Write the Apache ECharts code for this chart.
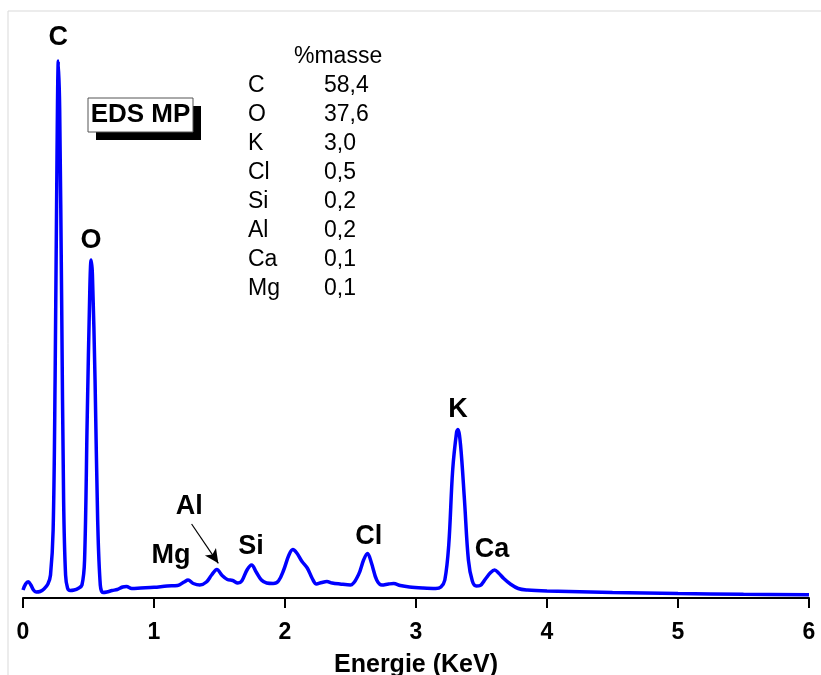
<!DOCTYPE html>
<html>
<head>
<meta charset="utf-8">
<script src="https://cdn.jsdelivr.net/npm/echarts@6/dist/echarts.min.js"></script>
<style>
html,body{margin:0;padding:0;background:#fff;overflow:hidden;}
#chart{width:821px;height:675px;}
</style>
</head>
<body>
<div id="chart"></div>
<script>
// Spectrum: energy (keV) and intensity (arbitrary counts)
var energy = [0.00,0.02,0.04,0.06,0.08,0.10,0.13,0.16,0.19,0.21,0.23,0.245,0.26,0.27,0.28,0.295,0.31,0.325,0.34,0.36,0.39,0.42,0.45,0.47,0.49,0.51,0.52,0.53,0.55,0.57,0.59,0.61,0.64,0.68,0.72,0.76,0.79,0.83,0.90,1.00,1.10,1.18,1.23,1.26,1.30,1.35,1.40,1.44,1.48,1.52,1.56,1.60,1.64,1.67,1.71,1.745,1.78,1.82,1.86,1.91,1.95,1.99,2.03,2.06,2.09,2.13,2.17,2.21,2.24,2.28,2.32,2.36,2.42,2.50,2.56,2.60,2.63,2.66,2.70,2.74,2.79,2.83,2.88,2.95,3.05,3.15,3.19,3.22,3.25,3.28,3.31,3.32,3.34,3.37,3.40,3.43,3.46,3.49,3.53,3.57,3.60,3.63,3.67,3.72,3.78,3.85,4.00,4.50,5.00,5.50,6.00];
var counts = [80,140,163,130,80,60,65,90,140,230,680,2180,4480,5370,4880,2980,980,230,100,75,80,95,130,380,1780,3080,3380,3230,2180,780,130,55,60,75,85,110,115,95,100,107,120,125,160,180,145,130,160,230,285,225,185,175,150,170,280,330,260,180,150,145,170,280,430,485,450,365,300,190,140,155,165,150,140,130,230,380,445,350,180,130,140,145,125,110,100,95,110,180,530,1280,1660,1685,1530,980,380,170,120,125,190,255,280,250,195,140,95,80,70,55,45,38,33];

// Peak annotations (element, energy, intensity position of label)
var peakNames = ['C','O','Mg','Al','Si','Cl','K','Ca'];
var peakLabelX = [0.27,0.52,1.13,1.27,1.74,2.64,3.32,3.58];
var peakLabelY = [5600,3570,420,910,510,610,1880,480];

// Composition table
var tableElements = ['C','O','K','Cl','Si','Al','Ca','Mg'];
var tableValues = ['58,4','37,6','3,0','0,5','0,2','0,2','0,1','0,1'];
var tableHeader = '%masse';
var sampleName = 'EDS MP';

var xTicks = [0,1,2,3,4,5,6];

var chart = echarts.init(document.getElementById('chart'));
var spectrum = energy.map(function(e,i){return [e,counts[i]];});
var labelData = peakNames.map(function(n,i){return {value:[peakLabelX[i],peakLabelY[i]],name:n};});

var graphics = [
  {type:'polyline',shape:{points:[[8,700],[8,11],[830,11]]},style:{stroke:'#d9d9d9',lineWidth:1,fill:null},silent:true},
  {type:'rect',shape:{x:96,y:106,width:105,height:34},style:{fill:'#000'}},
  {type:'rect',shape:{x:88,y:98,width:105,height:34},style:{fill:'#fff',stroke:'#555',lineWidth:1}},
  {type:'text',x:140.5,y:115,style:{text:sampleName,font:'bold 26px "Liberation Sans", Arial, sans-serif',fill:'#000',textAlign:'center',textVerticalAlign:'middle'}},
  {type:'text',x:294,y:57,style:{text:tableHeader,font:'23px "Liberation Sans", Arial, sans-serif',fill:'#000',textAlign:'left',textVerticalAlign:'middle'}}
];
tableElements.forEach(function(el,i){
  var y = 86 + i*29;
  graphics.push({type:'text',x:248,y:y,style:{text:el,font:'23px "Liberation Sans", Arial, sans-serif',fill:'#000',textAlign:'left',textVerticalAlign:'middle'}});
  graphics.push({type:'text',x:324,y:y,style:{text:tableValues[i],font:'23px "Liberation Sans", Arial, sans-serif',fill:'#000',textAlign:'left',textVerticalAlign:'middle'}});
});

chart.setOption({
  animation:false,
  backgroundColor:'#fff',
  grid:{left:23,right:12,top:18,bottom:77,containLabel:false,outerBoundsMode:'none'},
  xAxis:{
    type:'value',min:0,max:6,interval:1,
    name:'Energie (KeV)',nameLocation:'middle',nameGap:55,
    nameTextStyle:{fontFamily:'"Liberation Sans", Arial, sans-serif',fontWeight:'bold',fontSize:25,color:'#000'},
    axisLine:{show:true,onZero:false,lineStyle:{color:'#000',width:2}},
    axisTick:{show:true,inside:false,length:10,lineStyle:{color:'#000',width:2}},
    axisLabel:{show:true,margin:23,fontFamily:'"Liberation Sans", Arial, sans-serif',fontWeight:'bold',fontSize:23,color:'#000',
      formatter:function(v){return xTicks.indexOf(v)>=0?String(v):'';}},
    splitLine:{show:false}
  },
  yAxis:{type:'value',min:0,max:5800,show:false,splitLine:{show:false}},
  series:[
    {type:'line',data:spectrum,smooth:0.35,symbol:'none',lineStyle:{color:'#0000ff',width:3.5},z:3,
      markLine:{silent:true,symbol:['none','arrow'],symbolSize:[10,14],
        lineStyle:{color:'#000',width:1.2,type:'solid'},label:{show:false},
        data:[[{coord:[1.287,740]},{coord:[1.491,347]}]]}},
    {type:'scatter',data:labelData,symbolSize:0,z:4,itemStyle:{opacity:1},
      label:{show:true,position:'inside',formatter:function(p){return p.name;},
        fontFamily:'"Liberation Sans", Arial, sans-serif',fontWeight:'bold',fontSize:27,color:'#000',textBorderWidth:0}}
  ],
  graphic:graphics
});
</script>
</body>
</html>
